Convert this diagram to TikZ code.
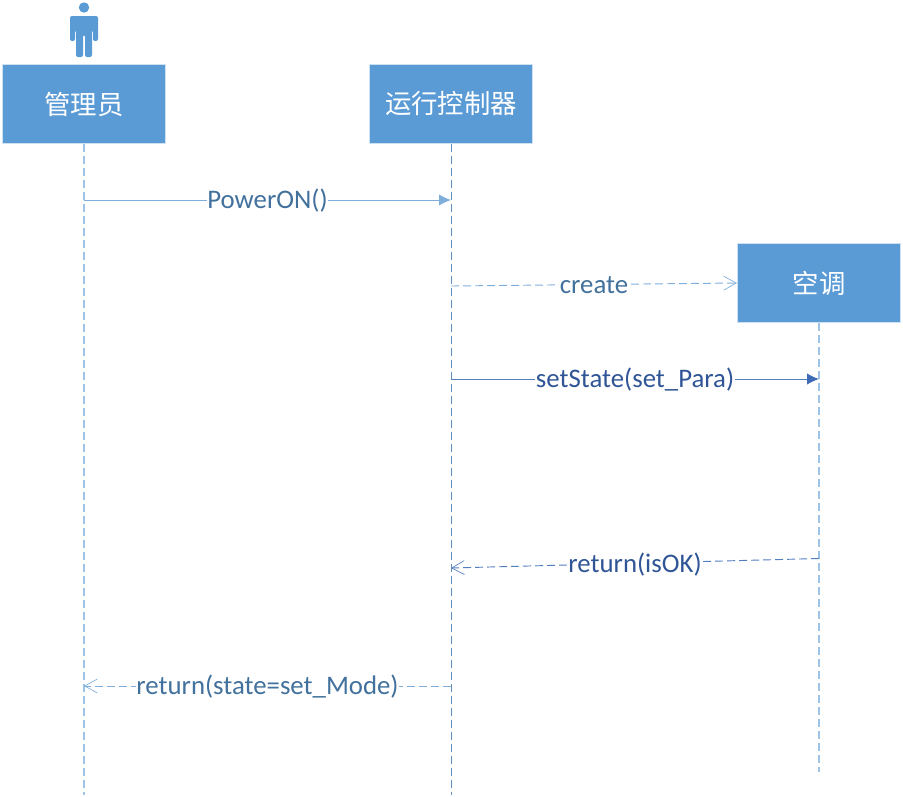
\documentclass[tikz,border=0pt]{standalone}
\usepackage{fontspec}
\setmainfont{Carlito}
\newfontfamily\cjk{Noto Sans CJK SC}
\usetikzlibrary{arrows.meta}
\definecolor{boxblue}{HTML}{5B9BD5}
\definecolor{lifeblue}{HTML}{9DC3E6}
\definecolor{lifedark}{HTML}{5F8FBF}
\definecolor{msgblue}{HTML}{7FAEDB}
\definecolor{msgdark}{HTML}{3F6AB5}
\definecolor{txtblue}{HTML}{41719C}
\definecolor{txtdark}{HTML}{2F5597}
\tikzset{
  object/.style={shape=rectangle, fill=boxblue, draw=white!70!boxblue, line width=.5pt, text=white,
    minimum width=122.5pt, minimum height=59pt, inner sep=0pt, font=\fontsize{19.8}{22}\selectfont\cjk},
  lifeline/.style={draw=lifeblue, line width=.8pt, dash pattern=on 6pt off 3pt},
  lifeline2/.style={lifeline, draw=lifedark, line width=.7pt},
  call/.style={draw=msgblue, line width=.7pt, -{Latex[length=9pt,width=8.5pt]}},
  reply/.style={draw=msgblue, line width=.7pt, dash pattern=on 6pt off 3pt, -{Straight Barb[length=9.5pt,width=10.5pt,line width=.5pt]}},
  msg/.style={fill=white, inner sep=.5pt, yshift=-.75pt, font=\fontsize{20.1}{22}\selectfont, text=txtblue}
}
\begin{document}
\begin{tikzpicture}[x=.75pt, y=-.75pt]
\useasboundingbox (0,0) rectangle (903,796);
\node[object] (admin) at ( 84,104) {管理员};
\node[object] (ctrl)  at (451,104) {运行控制器};
\node[object] (ac)    at (819,283) {空调};

% actor
\fill[boxblue] (84,7.5) circle (5.2);
\fill[boxblue, rounded corners=1.5pt] (70,41) -- (70,16) -- (98,16) -- (98,41) -- (93,41) -- (93,30) -- (92,30)
  -- (92,57) -- (85,57) -- (85,35) -- (83,35) -- (83,57) -- (76,57) -- (76,30) -- (75,30) -- (75,41) -- cycle;

\coordinate (admin end) at ( 84,795);
\coordinate (ctrl end)  at (451,795);
\coordinate (ac end)    at (819,772);
\draw[lifeline]  (admin) -- (admin end);
\draw[lifeline2] (ctrl)  -- (ctrl end);
\draw[lifeline]  (ac)    -- (ac end);

\coordinate (power a)  at ( 84,200);
\coordinate (power b)  at (451,200);
\coordinate (create a) at (451,286);
\coordinate (set a)    at (451,379);
\coordinate (set b)    at (819,379);
\coordinate (ok a)     at (819,558.5);
\coordinate (ok b)     at (451,568);
\coordinate (mode a)   at (451,686);
\coordinate (mode b)   at ( 84,686);

\path (power a)  edge[call]  node[msg] {PowerON()} (power b)
      (create a) edge[reply] node[msg] {create} (ac.west)
      (set a)    edge[call, draw=msgdark!70!msgblue, -{Latex[length=9pt,width=8.5pt,color=msgdark]}]
                 node[msg, text=txtdark] {setState(set\_Para)} (set b)
      (ok a)     edge[reply, draw=msgdark!70!msgblue] node[msg, text=txtdark] {return(isOK)} (ok b)
      (mode a)   edge[reply] node[msg] {return(state=set\_Mode)} (mode b);
\end{tikzpicture}
\end{document}
